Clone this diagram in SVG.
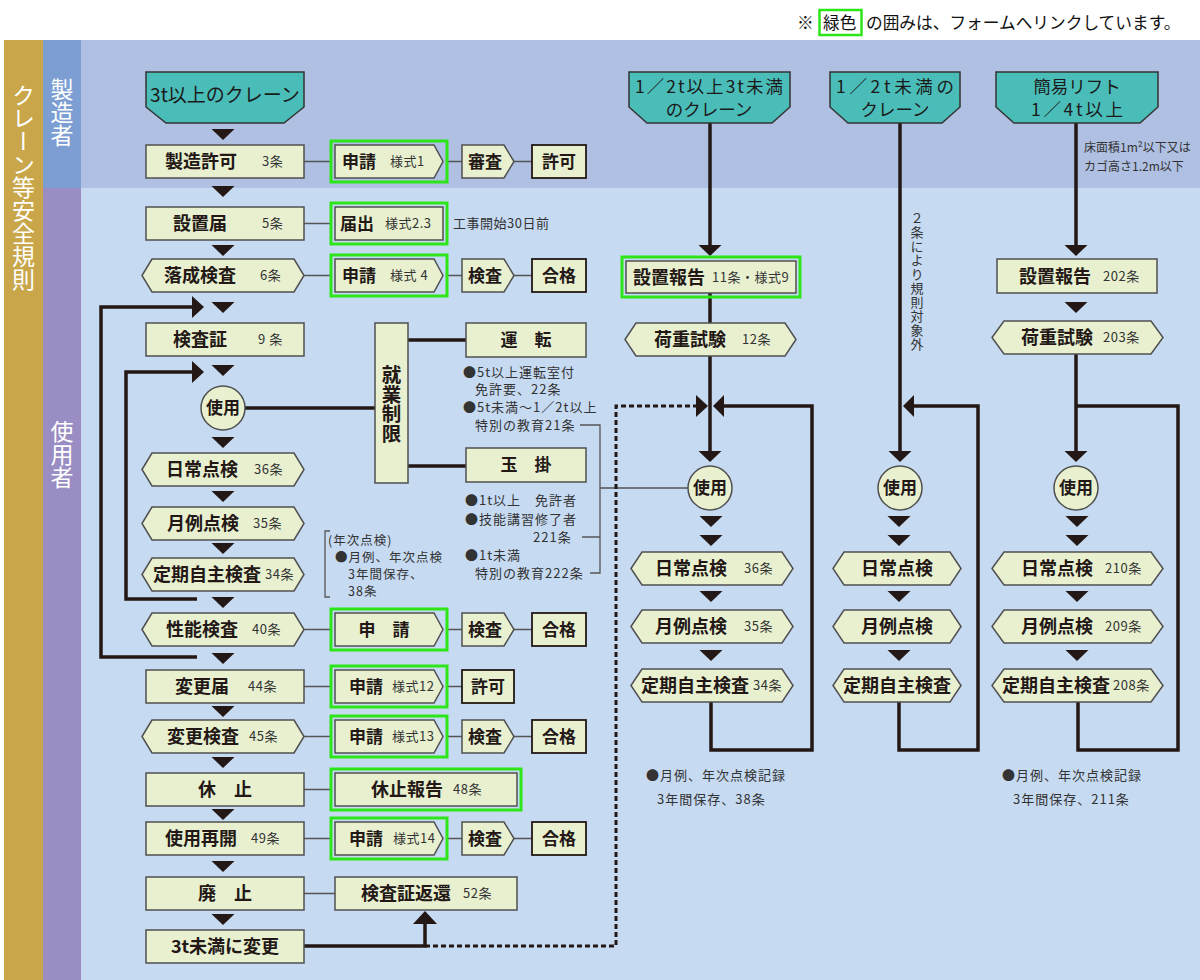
<svg xmlns="http://www.w3.org/2000/svg" width="1200" height="980" viewBox="0 0 1200 980">
<style>
text { font-family: "Noto Sans CJK JP", "Noto Sans", sans-serif; }
.bx { fill:#E8F0D0; stroke:#505050; stroke-width:1.5; }
.bk { fill:#E8F0D0; stroke:#231815; stroke-width:1.8; }
.gr { fill:none; stroke:#2DE619; stroke-width:3; }
.tl { fill:#4BBDB9; stroke:#333; stroke-width:1.5; }
.th { fill:none; stroke:#231815; stroke-width:3.5; }
.tn { fill:none; stroke:#555; stroke-width:1.3; }
.ds { fill:none; stroke:#231815; stroke-width:3; stroke-dasharray:5 3; }
.ah { fill:#231815; }
.L { font-size:18px; font-weight:bold; fill:#231815; }
.M { font-size:17px; font-weight:bold; fill:#231815; }
.S { font-size:13px; fill:#333; letter-spacing:0.5px; }
.N { font-size:13px; fill:#333; letter-spacing:1px; }
.N2 { font-size:12.5px; fill:#333; letter-spacing:1px; }
.T { font-size:19px; fill:#1a1a1a; }
.T2 { font-size:17.5px; fill:#1a1a1a; }
.V { writing-mode:vertical-rl; }
.W { fill:#fff; font-size:23px; }
</style>
<defs>
<path id="td" d="M-11.5,0H11.5L0,11Z" class="ah"/>
</defs>

<g id="background">
<rect x="0" y="0" width="1200" height="980" fill="#fff"/>
<rect x="81" y="40" width="1119" height="148" fill="#AFC0E2"/>
<rect x="81" y="188" width="1119" height="792" fill="#C6DAF2"/>
<rect x="4" y="40" width="39" height="940" fill="#C8A649"/>
<rect x="43" y="40" width="38" height="148" fill="#7C9ED2"/>
<rect x="43" y="188" width="38" height="792" fill="#9A8DC3"/>
<text class="V W" x="23.5" y="84">クレーン等安全規則</text>
<text class="V W" x="62" y="78" font-size="22">製造者</text>
<text class="V W" x="62" y="420" font-size="22">使用者</text>
</g>

<g id="legend">
<text x="797" y="29" font-size="16.7" fill="#111">※</text>
<rect x="819.5" y="10" width="42" height="25" fill="none" stroke="#2DE619" stroke-width="2.5"/>
<text x="823" y="29" font-size="16.7" fill="#111">緑色</text>
<text x="866" y="29" font-size="16.7" fill="#111">の囲みは、フォームへリンクしています。</text>
</g>

<g id="connectors">
<path class="tn" d="M304,161.5H331M447,161.5H462M514,161.5H532M304,223.5H331M304,275.5H331M447,275.5H462M514,275.5H532M304,629.5H331M447,629.5H462M514,629.5H532M304,686.5H331M447,686.5H462M304,736.5H331M447,736.5H462M514,736.5H532M304,789.5H331M304,838.5H331M447,838.5H462M514,838.5H532M304,893.5H335"/>
<path class="tn" d="M580,425H600V573H590M582,537H600M600,488H688"/>
<path class="th" d="M245,408H375M408,340H466M408,466H466"/>
<path class="th" d="M197,657H101V307H193"/>
<polygon class="ah" points="192,296 192,318 204,307"/>
<path class="th" d="M197,599H126V372H193"/>
<polygon class="ah" points="192,361 192,383 204,372"/>
<path class="th" d="M304,946H425V922"/>
<polygon class="ah" points="413,924 437,924 425,911"/>
<path class="ds" d="M425,946H616V406H697"/>
<polygon class="ah" points="696,395 696,417 708,406"/>
<use href="#td" x="223" y="129"/>
<use href="#td" x="223" y="186"/>
<use href="#td" x="223" y="245"/>
<use href="#td" x="223" y="302"/>
<use href="#td" x="223" y="365"/>
<use href="#td" x="223" y="437"/>
<use href="#td" x="223" y="491"/>
<use href="#td" x="223" y="543"/>
<use href="#td" x="223" y="597"/>
<use href="#td" x="223" y="653"/>
<use href="#td" x="223" y="706"/>
<use href="#td" x="223" y="757"/>
<use href="#td" x="223" y="809"/>
<use href="#td" x="223" y="861"/>
<use href="#td" x="223" y="914"/>
<!-- column 2 -->
<path class="th" d="M710,123V246M710,293V323M710,356V451"/>
<use href="#td" x="710" y="245"/>
<use href="#td" x="710" y="451"/>
<use href="#td" x="711" y="516"/>
<use href="#td" x="711" y="535"/>
<use href="#td" x="711" y="591"/>
<use href="#td" x="711" y="650"/>
<path class="th" d="M711,702V750H812V406H724"/>
<polygon class="ah" points="724,395 724,417 713,406"/>
<!-- column 3 -->
<path class="th" d="M900,123V451"/>
<use href="#td" x="900" y="451"/>
<use href="#td" x="899" y="516"/>
<use href="#td" x="899" y="535"/>
<use href="#td" x="899" y="591"/>
<use href="#td" x="899" y="650"/>
<path class="th" d="M914,406H978V750H899V702"/>
<polygon class="ah" points="914,395 914,417 903,406"/>
<!-- column 4 -->
<path class="th" d="M1076,123V246M1076,354V451"/>
<use href="#td" x="1076" y="245"/>
<use href="#td" x="1076" y="302"/>
<use href="#td" x="1076" y="451"/>
<use href="#td" x="1077" y="516"/>
<use href="#td" x="1077" y="535"/>
<use href="#td" x="1077" y="591"/>
<use href="#td" x="1077" y="650"/>
<path class="th" d="M1076,406H1178V750H1078V702"/>
</g>

<!-- column 1 -->
<g id="n-crane3t"><polygon class="tl" points="146,72 304,72 304,107 284,123 166,123 146,107"/><text class="T" x="225" y="102" text-anchor="middle">3t以上のクレーン</text></g>
<g id="n-seizokyoka"><rect class="bx" x="146" y="145" width="158" height="33"/><text class="L" x="165" y="168">製造許可</text><text class="S" x="262" y="166">3条</text></g>
<g id="n-shinsei1"><rect class="gr" x="331" y="141" width="116" height="41"/><polygon class="bx" points="335,145 434,145 443,161.5 434,178 335,178"/><text class="M" x="342" y="168">申請</text><text class="S" x="390" y="166">様式1</text></g>
<g id="n-shinsa"><polygon class="bx" points="462,145 504,145 514,161.5 504,178 462,178"/><text class="M" x="468" y="168">審査</text></g>
<g id="n-kyoka1"><rect class="bk" x="532" y="145" width="54" height="33"/><text class="M" x="559" y="168" text-anchor="middle">許可</text></g>

<g id="n-setchitodoke"><rect class="bx" x="146" y="207" width="158" height="33"/><text class="L" x="173" y="230">設置届</text><text class="S" x="262" y="228">5条</text></g>
<g id="n-todokede"><rect class="gr" x="331" y="203" width="116" height="41"/><rect class="bx" x="335" y="207" width="108" height="33"/><text class="M" x="340" y="230">届出</text><text class="S" x="385" y="228">様式2.3</text><text class="S" x="453" y="228">工事開始30日前</text></g>

<g id="n-rakusei"><polygon class="bx" points="142,275.5 152,259 294,259 304,275.5 294,292 152,292"/><text class="L" x="164" y="282">落成検査</text><text class="S" x="260" y="280">6条</text></g>
<g id="n-shinsei4"><rect class="gr" x="331" y="255" width="116" height="41"/><polygon class="bx" points="335,259 434,259 443,275.5 434,292 335,292"/><text class="M" x="342" y="282">申請</text><text class="S" x="390" y="280">様式 4</text></g>
<g id="n-kensa4"><polygon class="bx" points="462,259 504,259 514,275.5 504,292 462,292"/><text class="M" x="468" y="282">検査</text></g>
<g id="n-gokaku4"><rect class="bk" x="532" y="259" width="54" height="33"/><text class="M" x="559" y="282" text-anchor="middle">合格</text></g>

<g id="n-kensasho"><rect class="bx" x="146" y="323" width="158" height="33"/><text class="L" x="173" y="346">検査証</text><text class="S" x="258" y="344">9 条</text></g>
<g id="n-shiyo1"><circle class="bx" cx="223" cy="408" r="22"/><text class="M" x="223" y="414" text-anchor="middle">使用</text></g>
<g id="n-shugyo"><rect class="bx" x="375" y="323" width="33" height="160"/><text class="V" x="391.5" y="365" font-size="19.5" font-weight="bold" fill="#231815">就業制限</text></g>
<g id="n-unten"><rect class="bx" x="466" y="323" width="120" height="34"/><text class="M" x="526" y="346" text-anchor="middle">運　転</text></g>
<g id="n-tamakake"><rect class="bx" x="466" y="448" width="120" height="34"/><text class="M" x="526" y="471" text-anchor="middle">玉　掛</text></g>
<g id="notes-shugyo">
<text class="N" x="463" y="377">●5t以上運転室付</text>
<text class="N" x="475" y="394">免許要、22条</text>
<text class="N" x="463" y="412">●5t未満～1／2t以上</text>
<text class="N" x="475" y="430">特別の教育21条</text>
<text class="N" x="465" y="505">●1t以上　免許者</text>
<text class="N" x="465" y="524">●技能講習修了者</text>
<text class="N" x="533" y="542">221条</text>
<text class="N" x="465" y="560">●1t未満</text>
<text class="N" x="475" y="578">特別の教育222条</text>
</g>

<g id="n-nichijo1"><polygon class="bx" points="142,469.5 152,453 294,453 304,469.5 294,486 152,486"/><text class="L" x="166" y="476">日常点検</text><text class="S" x="254" y="474">36条</text></g>
<g id="n-getsurei1"><polygon class="bx" points="142,523.5 152,507 294,507 304,523.5 294,540 152,540"/><text class="L" x="167" y="530">月例点検</text><text class="S" x="253" y="528">35条</text></g>
<g id="n-teiki1"><polygon class="bx" points="142,574.5 152,558 294,558 304,574.5 294,591 152,591"/><text class="L" x="153" y="581">定期自主検査</text><text class="S" x="265" y="579">34条</text></g>
<g id="notes-nenji">
<path class="tn" d="M330,531H325V597H330"/>
<text class="N2" x="328" y="545">(年次点検)</text>
<text class="N2" x="335" y="562">●月例、年次点検</text>
<text class="N2" x="348" y="579">3年間保存、</text>
<text class="N2" x="348" y="596">38条</text>
</g>

<g id="n-seino"><polygon class="bx" points="142,629.5 152,613 294,613 304,629.5 294,646 152,646"/><text class="L" x="166" y="636">性能検査</text><text class="S" x="252" y="634">40条</text></g>
<g id="n-shinsei40"><rect class="gr" x="331" y="609" width="116" height="41"/><polygon class="bx" points="335,613 434,613 443,629.5 434,646 335,646"/><text class="M" x="384" y="636" text-anchor="middle">申　請</text></g>
<g id="n-kensa40"><polygon class="bx" points="462,613 504,613 514,629.5 504,646 462,646"/><text class="M" x="468" y="636">検査</text></g>
<g id="n-gokaku40"><rect class="bk" x="532" y="613" width="54" height="33"/><text class="M" x="559" y="636" text-anchor="middle">合格</text></g>

<g id="n-henkotodoke"><rect class="bx" x="146" y="670" width="158" height="33"/><text class="L" x="175" y="693">変更届</text><text class="S" x="248" y="691">44条</text></g>
<g id="n-shinsei12"><rect class="gr" x="331" y="666" width="116" height="41"/><polygon class="bx" points="335,670 434,670 443,686.5 434,703 335,703"/><text class="M" x="349" y="693">申請</text><text class="S" x="392" y="691">様式12</text></g>
<g id="n-kyoka44"><rect class="bk" x="462" y="670" width="52" height="33"/><text class="M" x="488" y="693" text-anchor="middle">許可</text></g>

<g id="n-henkokensa"><polygon class="bx" points="142,736.5 152,720 294,720 304,736.5 294,753 152,753"/><text class="L" x="167" y="743">変更検査</text><text class="S" x="249" y="741">45条</text></g>
<g id="n-shinsei13"><rect class="gr" x="331" y="716" width="116" height="41"/><polygon class="bx" points="335,720 434,720 443,736.5 434,753 335,753"/><text class="M" x="349" y="743">申請</text><text class="S" x="392" y="741">様式13</text></g>
<g id="n-kensa45"><polygon class="bx" points="462,720 504,720 514,736.5 504,753 462,753"/><text class="M" x="468" y="743">検査</text></g>
<g id="n-gokaku45"><rect class="bk" x="532" y="720" width="54" height="33"/><text class="M" x="559" y="743" text-anchor="middle">合格</text></g>

<g id="n-kyushi"><rect class="bx" x="146" y="773" width="158" height="33"/><text class="L" x="225" y="796" text-anchor="middle">休　止</text></g>
<g id="n-kyushihokoku"><rect class="gr" x="331" y="769" width="190" height="41"/><rect class="bx" x="335" y="773" width="182" height="33"/><text class="L" x="371" y="796">休止報告</text><text class="S" x="453" y="794">48条</text></g>

<g id="n-saikai"><rect class="bx" x="146" y="822" width="158" height="33"/><text class="L" x="165" y="845">使用再開</text><text class="S" x="251" y="843">49条</text></g>
<g id="n-shinsei14"><rect class="gr" x="331" y="818" width="116" height="41"/><polygon class="bx" points="335,822 434,822 443,838.5 434,855 335,855"/><text class="M" x="349" y="845">申請</text><text class="S" x="393" y="843">様式14</text></g>
<g id="n-kensa49"><polygon class="bx" points="462,822 504,822 514,838.5 504,855 462,855"/><text class="M" x="468" y="845">検査</text></g>
<g id="n-gokaku49"><rect class="bk" x="532" y="822" width="54" height="33"/><text class="M" x="559" y="845" text-anchor="middle">合格</text></g>

<g id="n-haishi"><rect class="bx" x="146" y="877" width="158" height="33"/><text class="L" x="225" y="900" text-anchor="middle">廃　止</text></g>
<g id="n-henkan"><rect class="bx" x="335" y="877" width="182" height="33"/><text class="L" x="361" y="900">検査証返還</text><text class="S" x="463" y="898">52条</text></g>
<g id="n-3tmiman"><rect class="bx" x="146" y="930" width="158" height="33"/><text class="L" x="225" y="953" text-anchor="middle">3t未満に変更</text></g>

<!-- column 2 -->
<g id="n-crane-half"><polygon class="tl" points="629,72 790,72 790,107 772,123 647,123 629,107"/><text class="T2" x="709" y="93" text-anchor="middle" textLength="148" lengthAdjust="spacing">1／2t以上3t未満</text><text class="T2" x="709" y="116" text-anchor="middle">のクレーン</text></g>
<g id="n-setchihokoku2"><rect class="gr" x="622" y="257" width="178" height="40"/><rect class="bx" x="626" y="261" width="170" height="32"/><text class="L" x="633" y="283.5">設置報告</text><text class="S" x="712" y="281.5">11条・様式9</text></g>
<g id="n-kaju2"><polygon class="bx" points="625,339.5 636,323 785,323 796,339.5 785,356 636,356"/><text class="L" x="654" y="346">荷重試験</text><text class="S" x="742" y="344">12条</text></g>
<g id="n-shiyo2"><circle class="bx" cx="710" cy="488" r="22"/><text class="M" x="710" y="494" text-anchor="middle">使用</text></g>
<g id="n-nichijo2"><polygon class="bx" points="631,568.5 642,552 782,552 793,568.5 782,585 642,585"/><text class="L" x="655" y="575">日常点検</text><text class="S" x="744" y="573">36条</text></g>
<g id="n-getsurei2"><polygon class="bx" points="631,626.5 642,610 782,610 793,626.5 782,643 642,643"/><text class="L" x="655" y="633">月例点検</text><text class="S" x="744" y="631">35条</text></g>
<g id="n-teiki2"><polygon class="bx" points="631,685.5 642,669 782,669 793,685.5 782,702 642,702"/><text class="L" x="641" y="692">定期自主検査</text><text class="S" x="753" y="690">34条</text></g>
<g id="notes-col2"><text class="N" x="646" y="780">●月例、年次点検記録</text><text class="N" x="657" y="804">3年間保存、38条</text></g>

<!-- column 3 -->
<g id="n-crane-small"><polygon class="tl" points="830,72 960,72 960,107 942,123 848,123 830,107"/><text class="T2" x="895" y="93" text-anchor="middle" textLength="118" lengthAdjust="spacing">1／2t未満の</text><text class="T2" x="895" y="116" text-anchor="middle">クレーン</text></g>
<g id="note-col3"><text class="V N" x="917" y="212">２条により規則対象外</text></g>
<g id="n-shiyo3"><circle class="bx" cx="900" cy="488" r="22"/><text class="M" x="900" y="494" text-anchor="middle">使用</text></g>
<g id="n-nichijo3"><polygon class="bx" points="833,568.5 844,552 950,552 961,568.5 950,585 844,585"/><text class="L" x="897" y="575" text-anchor="middle">日常点検</text></g>
<g id="n-getsurei3"><polygon class="bx" points="833,626.5 844,610 950,610 961,626.5 950,643 844,643"/><text class="L" x="897" y="633" text-anchor="middle">月例点検</text></g>
<g id="n-teiki3"><polygon class="bx" points="833,685.5 844,669 950,669 961,685.5 950,702 844,702"/><text class="L" x="897" y="692" text-anchor="middle">定期自主検査</text></g>

<!-- column 4 -->
<g id="n-lift"><polygon class="tl" points="996,72 1158,72 1158,107 1140,123 1014,123 996,107"/><text class="T2" x="1077" y="93" text-anchor="middle">簡易リフト</text><text class="T2" x="1077" y="116" text-anchor="middle" textLength="92" lengthAdjust="spacing">1／4t以上</text></g>
<g id="note-lift"><text x="1084" y="152" font-size="12" fill="#333">床面積1m²以下又は</text><text x="1084" y="171" font-size="12" fill="#333">カゴ高さ1.2m以下</text></g>
<g id="n-setchihokoku4"><rect class="bx" x="997" y="259" width="160" height="34"/><text class="L" x="1019" y="282.5">設置報告</text><text class="S" x="1103" y="280.5">202条</text></g>
<g id="n-kaju4"><polygon class="bx" points="992,337.5 1004,321 1151,321 1163,337.5 1151,354 1004,354"/><text class="L" x="1021" y="344">荷重試験</text><text class="S" x="1103" y="342">203条</text></g>
<g id="n-shiyo4"><circle class="bx" cx="1076" cy="488" r="22"/><text class="M" x="1076" y="494" text-anchor="middle">使用</text></g>
<g id="n-nichijo4"><polygon class="bx" points="992,568.5 1004,552 1151,552 1163,568.5 1151,585 1004,585"/><text class="L" x="1021" y="575">日常点検</text><text class="S" x="1105" y="573">210条</text></g>
<g id="n-getsurei4"><polygon class="bx" points="992,626.5 1004,610 1151,610 1163,626.5 1151,643 1004,643"/><text class="L" x="1021" y="633">月例点検</text><text class="S" x="1105" y="631">209条</text></g>
<g id="n-teiki4"><polygon class="bx" points="992,685.5 1004,669 1151,669 1163,685.5 1151,702 1004,702"/><text class="L" x="1002" y="692">定期自主検査</text><text class="S" x="1113" y="690">208条</text></g>
<g id="notes-col4"><text class="N" x="1002" y="780">●月例、年次点検記録</text><text class="N" x="1013" y="804">3年間保存、211条</text></g>
</svg>
